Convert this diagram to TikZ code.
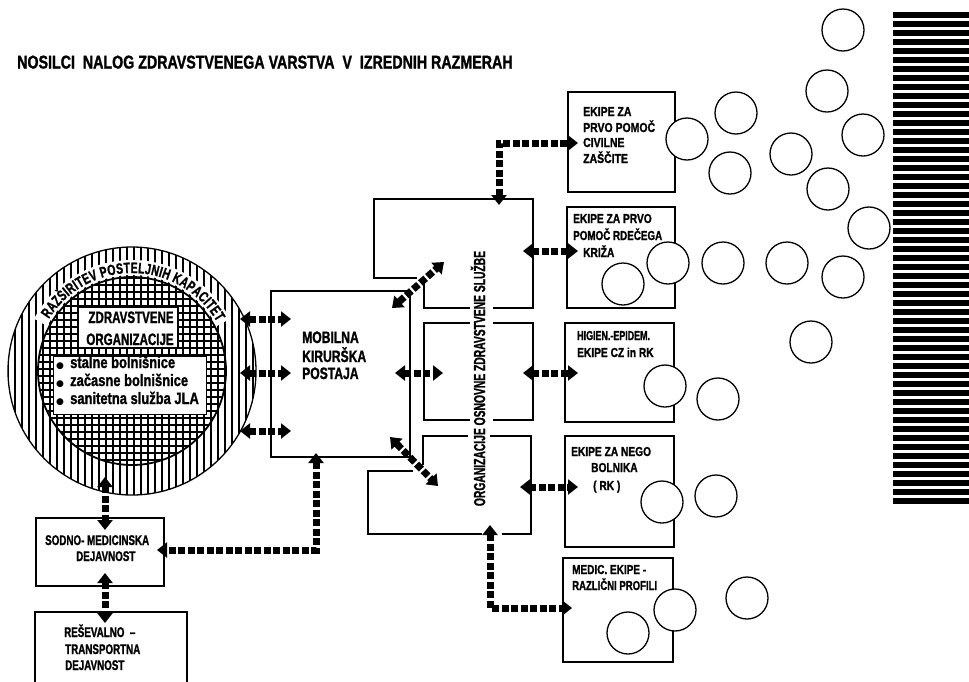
\documentclass[tikz,border=0pt]{standalone}
\usepackage{fontspec}
\usepackage{graphicx}
\usetikzlibrary{arrows.meta,decorations.text}
\newfontfamily\cf[FakeStretch=0.7,FakeBold=1.2]{Liberation Sans}
\newfontfamily\dv{DejaVu Sans}
\newcommand\myfs[1]{\fontsize{#1}{#1}\selectfont}
\newcommand\sx[2]{\scalebox{#1}[1]{#2}}
\tikzset{
 lbl/.style={inner sep=0pt, anchor=base west, font=\cf\bfseries},
 box/.style={draw, line width=1.6pt, inner sep=0pt},
 dar/.style={line width=7pt, dash pattern=on 7pt off 2.5pt, {Triangle[length=10pt,width=15pt]}-{Triangle[length=10pt,width=15pt]}},
 ball/.style={circle, draw, fill=white, line width=1.3pt, minimum size=42pt, inner sep=0pt},
 org/.style={line width=1.6pt},
 hatch/.style={line width=1.1pt},
 rt/.style={lbl, font=\cf\bfseries\myfs{13}},
}
\begin{document}
\begin{tikzpicture}[x=1pt,y=-1pt]
\useasboundingbox (0,0) rectangle (969,681);
% title
\node[lbl, font=\cf\bfseries\myfs{18.5}] (title) at (17,68.5) {\sx{1.1}{NOSILCI\ \ NALOG ZDRAVSTVENEGA VARSTVA\ \ V\ \ IZREDNIH RAZMERAH}};
% big circle
\coordinate (cc) at (132,371);
\begin{scope}
\clip (cc) circle[radius=124];
\foreach \i in {0,...,36} \draw[hatch] (8+7*\i,240) -- ++(0,270);
\end{scope}
\begin{scope}
\clip (cc) circle[radius=94];
\foreach \i in {0,...,28} \draw[hatch] (30,278+7*\i) -- ++(210,0);
\end{scope}
\draw[white, line width=15pt] ([shift={(208:103.5)}]cc) arc[start angle=208, end angle=332, radius=103.5];
\draw[line width=1.3pt] (cc) circle[radius=124];
\draw[line width=1.8pt] (cc) circle[radius=94];
\path[decorate, decoration={text along path, text align=fit to path, text={|\cf\bfseries\myfs{15}|RAZŠIRITEV POSTELJNIH KAPACITET}}] ([shift={(212:98)}]cc) arc[start angle=212, end angle=330, radius=98];
\node[box, fill=white, line width=1.2pt, minimum width=100pt, minimum height=41pt] (zo) at (128,327.5) {};
\node[lbl, anchor=base, font=\cf\bfseries\myfs{16.5}] at (131,323) {ZDRAVSTVENE};
\node[lbl, anchor=base, font=\cf\bfseries\myfs{16.5}] at (130,345) {ORGANIZACIJE};
\node[box, fill=white, line width=1pt, minimum width=153pt, minimum height=58pt] (lst) at (129.5,385) {};
\foreach \yy/\tt in {368/stalne bolnišnice, 386/začasne bolnišnice, 404/sanitetna služba JLA}{
  \node[lbl, font=\dv\myfs{9}] at (56,\yy) {●};
  \node[lbl, font=\cf\bfseries\myfs{16.5}] at (70,\yy) {\sx{1.12}{\tt}};
}
% Mobilna
\node[box, minimum width=139pt, minimum height=166pt] (mob) at (340.5,374) {};
\node[lbl, font=\cf\bfseries\myfs{16.5}] at (302,343) {\sx{1.05}{MOBILNA}};
\node[lbl, font=\cf\bfseries\myfs{16.5}] at (302,362) {\sx{1.05}{KIRURŠKA}};
\node[lbl, font=\cf\bfseries\myfs{16.5}] at (302,379) {\sx{1.05}{POSTAJA}};
% organizacije structure
\draw[org] (417,278) -- (374,278) -- (374,199) -- (533,199) -- (533,308) -- (493,308);
\draw[org] (470,308) -- (424,308) -- (424,280);
\draw[org] (470,323) -- (424,323) -- (424,420) -- (470,420);
\draw[org] (493,323) -- (533,323) -- (533,420) -- (493,420);
\draw[org] (468,436) -- (423,436) -- (423,465);
\draw[org] (413,471) -- (368,471) -- (368,534) -- (482,534);
\draw[org] (502,534) -- (531,534) -- (531,436) -- (490,436);
\node[lbl, anchor=center, rotate=90, font=\cf\bfseries\myfs{16}] (orgt) at (478,378.5) {\sx{0.92}{ORGANIZACIJE OSNOVNE ZDRAVSTVENE SLUŽBE}};
% right boxes
\node[box, minimum width=107pt, minimum height=100pt] (b1) at (621.5,142) {};
\node[box, minimum width=108pt, minimum height=101pt] (b2) at (621,257.5) {};
\node[box, minimum width=109pt, minimum height=99pt] (b3) at (619.5,372.5) {};
\node[box, minimum width=109pt, minimum height=111pt] (b4) at (619.5,491.5) {};
\node[box, minimum width=110pt, minimum height=104pt] (b5) at (618,610) {};
\node[rt] at (583,116) {\sx{1.15}{EKIPE ZA}};
\node[rt] at (583,132) {\sx{1.15}{PRVO POMOČ}};
\node[rt] at (583,147) {\sx{1.15}{CIVILNE}};
\node[rt] at (583,163) {\sx{1.15}{ZAŠČITE}};
\node[rt] at (573,223) {\sx{1.12}{EKIPE ZA PRVO}};
\node[rt] at (573,240) {\sx{1.08}{POMOČ RDEČEGA}};
\node[rt] at (583,257) {\sx{1.12}{KRIŽA}};
\node[rt] at (577,340) {\sx{0.98}{HIGIEN.-EPIDEM.}};
\node[rt] at (577,357) {\sx{1.12}{EKIPE CZ in RK}};
\node[rt] at (571,456) {\sx{1.12}{EKIPE ZA NEGO}};
\node[rt] at (591,472) {\sx{1.12}{BOLNIKA}};
\node[rt] at (593,490) {\sx{1.12}{( RK )}};
\node[rt] at (572,574) {\sx{1.1}{MEDIC. EKIPE -}};
\node[rt] at (572,590) {\sx{1.05}{RAZLIČNI PROFILI}};
% lower left boxes
\node[box, minimum width=128pt, minimum height=68pt] (sod) at (100,552) {};
\node[lbl, font=\cf\bfseries\myfs{14}] at (45,545) {SODNO- MEDICINSKA};
\node[lbl, font=\cf\bfseries\myfs{14}] at (76,561) {DEJAVNOST};
\node[box, minimum width=152pt, minimum height=78pt] (res) at (111,651) {};
\node[lbl, font=\cf\bfseries\myfs{14}] at (64,637) {REŠEVALNO\ \ –};
\node[lbl, font=\cf\bfseries\myfs{14}] at (65,654) {TRANSPORTNA};
\node[lbl, font=\cf\bfseries\myfs{14}] at (65,670) {DEJAVNOST};
% arrow end points
\coordinate (k1a) at (240,319); \coordinate (k1b) at (291,319);
\coordinate (k2a) at (240,373); \coordinate (k2b) at (291,373);
\coordinate (k3a) at (240,431); \coordinate (k3b) at (291,431);
\coordinate (mo1) at (395,373); \coordinate (mo2) at (443,373);
\coordinate (du1) at (392,308); \coordinate (du2) at (444,262);
\coordinate (dl1) at (390,437); \coordinate (dl2) at (438,486);
\coordinate (r1a) at (523,251); \coordinate (r1b) at (578,251);
\coordinate (r2a) at (523,373); \coordinate (r2b) at (578,373);
\coordinate (r3a) at (520,487); \coordinate (r3b) at (578,487);
\coordinate (t1) at (499,205); \coordinate (t2) at (578,143);
\coordinate (u1) at (490,525); \coordinate (u2) at (572,608);
\coordinate (s1) at (316,453); \coordinate (s2) at (157,550);
\coordinate (v1) at (105,477); \coordinate (v2) at (105,530);
\coordinate (w1) at (105,573); \coordinate (w2) at (105,623);
\foreach \a/\b in {k1a/k1b,k2a/k2b,k3a/k3b,mo1/mo2,du1/du2,dl1/dl2,r1a/r1b,r2a/r2b,r3a/r3b,v1/v2,w1/w2}
  \draw[dar] (\a) -- (\b);
\draw[dar] (t1) |- (t2);
\draw[dar] (u1) |- (u2);
\draw[dar] (s1) |- (s2);
% circles
\foreach \n/\p in {1/{687,139},2/{736,113},3/{730,173},4/{791,154},5/{843,30},6/{827,91},7/{863,135},8/{828,189},9/{869,228},10/{668,263},11/{623,284},12/{723,263},13/{787,263},14/{843,277},15/{811,342},16/{665,386},17/{718,399},18/{662,502},19/{716,496},20/{675,610},21/{747,598},22/{628,633}}
  \node[ball] (c\n) at (\p) {};
% striped bar
\foreach \i in {0,...,54} \fill (893,12+9*\i) rectangle (969,18+9*\i);
\end{tikzpicture}
\end{document}
